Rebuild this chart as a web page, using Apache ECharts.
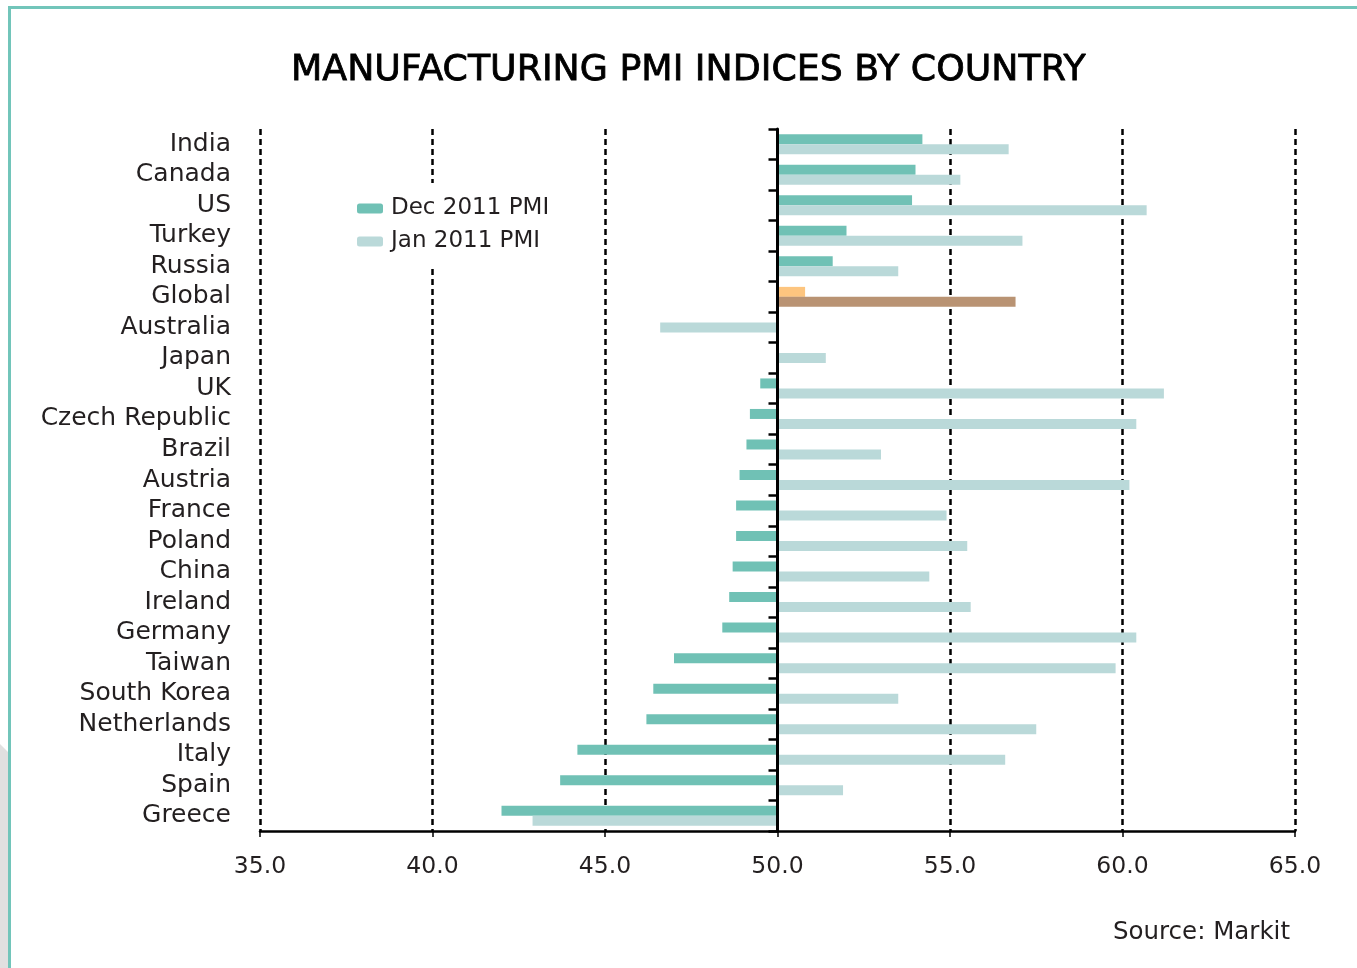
<!DOCTYPE html>
<html>
<head>
<meta charset="utf-8">
<title>Manufacturing PMI indices by country</title>
<script src="https://cdn.jsdelivr.net/npm/echarts@6.0.0/dist/echarts.min.js"></script>
<style>
  html, body { margin: 0; padding: 0; background: #fff; }
  #chart { width: 1357px; height: 968px; }
</style>
</head>
<body>
<div id="chart"></div>
<script>
// values
const countries = ['India', 'Canada', 'US', 'Turkey', 'Russia', 'Global', 'Australia', 'Japan', 'UK',
  'Czech Republic', 'Brazil', 'Austria', 'France', 'Poland', 'China', 'Ireland', 'Germany', 'Taiwan',
  'South Korea', 'Netherlands', 'Italy', 'Spain', 'Greece']
const dec2011 = [54.2, 54.0, 53.9, 52.0, 51.6, 50.8, null, null, 49.5, 49.2, 49.1, 48.9, 48.8, 48.8,
  48.7, 48.6, 48.4, 47.0, 46.4, 46.2, 44.2, 43.7, 42.0]
const jan2011 = [56.7, 55.3, 60.7, 57.1, 53.5, 56.9, 46.6, 51.4, 61.2, 60.4, 53.0, 60.2, 54.9, 55.5,
  54.4, 55.6, 60.4, 59.8, 53.5, 57.5, 56.6, 51.9, 42.9]
const xTicks = [35, 40, 45, 50, 55, 60, 65]
const baseline = 50

const FONT = 'DejaVu Sans'
const TEXT = '#231f20'
const DEC_COLOR = '#70c1b5'
const JAN_COLOR = '#bad9d9'
const GLOBAL_DEC = '#fdc57f'
const GLOBAL_JAN = '#b99373'

const chart = echarts.init(document.getElementById('chart'), null, { renderer: 'canvas' })

// bars grow from the 50 line: a transparent part from the axis start up to min(v, 50),
// then the visible part covering |v - 50|
function basePart(values) {
  return values.map((v) => (v == null ? null : Math.min(v, baseline)))
}
function spanPart(values, colorFor) {
  return values.map((v, i) => {
    if (v == null) return null
    const c = colorFor(i)
    return c ? { value: Math.abs(v - baseline), itemStyle: { color: c } } : Math.abs(v - baseline)
  })
}

// Jan bars that have no Dec partner sit centred in their row (own axis, one slot)
const janPaired = jan2011.map((v, i) => (dec2011[i] == null ? null : v))
const janSolo = jan2011.map((v, i) => (dec2011[i] == null ? v : null))

const globalIdx = countries.indexOf('Global')

const hidden = { color: 'transparent' }
const barBase = { type: 'bar', barWidth: 10, barGap: '0%', silent: true, itemStyle: hidden, tooltip: { show: false } }

const series = [
  { ...barBase, name: 'decBase', stack: 'dec', yAxisIndex: 0, data: basePart(dec2011) },
  {
    type: 'bar', name: 'Dec 2011 PMI', stack: 'dec', yAxisIndex: 0, barWidth: 10, barGap: '0%',
    itemStyle: { color: DEC_COLOR },
    data: spanPart(dec2011, (i) => (i === globalIdx ? GLOBAL_DEC : null)),
  },
  { ...barBase, name: 'janBase', stack: 'jan', yAxisIndex: 0, data: basePart(janPaired) },
  {
    type: 'bar', name: 'Jan 2011 PMI', stack: 'jan', yAxisIndex: 0, barWidth: 10, barGap: '0%',
    itemStyle: { color: JAN_COLOR },
    data: spanPart(janPaired, (i) => (i === globalIdx ? GLOBAL_JAN : null)),
  },
  { ...barBase, name: 'soloBase', stack: 'solo', yAxisIndex: 1, data: basePart(janSolo) },
  {
    type: 'bar', name: 'Jan 2011 PMI', stack: 'solo', yAxisIndex: 1, barWidth: 10,
    itemStyle: { color: JAN_COLOR },
    data: spanPart(janSolo, () => null),
  },
]

const gridLeft = 260
const gridRight = 62
const gridWidth = 1357 - gridLeft - gridRight
const xMin = xTicks[0]
const xMax = xTicks[xTicks.length - 1]

chart.setOption({
  backgroundColor: '#fff',
  animation: false,
  textStyle: { fontFamily: FONT },
  title: {
    text: 'MANUFACTURING PMI INDICES BY COUNTRY',
    left: 291,
    top: 53,
    padding: 0,
    textStyle: {
      fontFamily: FONT, fontSize: 36.3, fontWeight: 'normal', color: '#000',
      textBorderColor: '#000', textBorderWidth: 0.8,
    },
  },
  legend: {
    data: ['Dec 2011 PMI', 'Jan 2011 PMI'],
    orient: 'vertical',
    left: 352,
    top: 183,
    z: 20,
    padding: [14, 8, 15, 5],
    backgroundColor: '#fff',
    itemWidth: 26,
    itemHeight: 10,
    itemGap: 10,
    selectedMode: false,
    textStyle: { fontFamily: FONT, fontSize: 23, lineHeight: 23, color: TEXT, padding: [0, 0, 0, 3] },
  },
  grid: { left: gridLeft, right: gridRight, top: 129, bottom: 137 },
  xAxis: {
    type: 'value',
    min: xMin,
    max: xMax,
    interval: 5,
    axisLine: { show: true, lineStyle: { color: '#000', width: 2.5 } },
    axisTick: { show: true, length: 6, lineStyle: { color: '#000', width: 1.5 } },
    axisLabel: {
      fontFamily: FONT, fontSize: 23.5, color: TEXT, margin: 24,
      formatter: (v) => v.toFixed(1),
    },
    splitLine: { show: true, lineStyle: { color: '#000', width: 2.5, type: [6, 4] } },
  },
  yAxis: [
    {
      type: 'category',
      data: countries,
      inverse: true,
      axisLine: { show: false },
      axisTick: { show: false },
      axisLabel: {
        interval: 0, fontFamily: FONT, fontSize: 25, color: TEXT, margin: 29,
        lineHeight: 30, padding: [5, 0, 0, 0],
      },
    },
    {
      // the solid 50 line with its category ticks
      type: 'category',
      data: countries,
      inverse: true,
      position: 'left',
      offset: -gridWidth * (baseline - xMin) / (xMax - xMin),
      axisLine: { show: true, onZero: false, lineStyle: { color: '#000', width: 3 } },
      axisTick: { show: true, interval: 0, length: 9, lineStyle: { color: '#000', width: 2.5 } },
      axisLabel: { show: false },
      z: 5,
    },
  ],
  graphic: [
    {
      type: 'polygon', silent: true,
      shape: { points: [[0, 744], [8, 752], [8, 968], [0, 968]] },
      style: { fill: '#e1e0e0' },
    },
    {
      type: 'rect', silent: true,
      shape: { x: 8, y: 6, width: 1349, height: 3 },
      style: { fill: '#72c5ba' },
    },
    {
      type: 'rect', silent: true,
      shape: { x: 8, y: 6, width: 3, height: 962 },
      style: { fill: '#72c5ba' },
    },
    {
      type: 'text', silent: true,
      right: 67, top: 920,
      style: { text: 'Source: Markit', font: '24.5px "DejaVu Sans"', fill: TEXT },
    },
  ],
  series,
})
</script>
</body>
</html>
